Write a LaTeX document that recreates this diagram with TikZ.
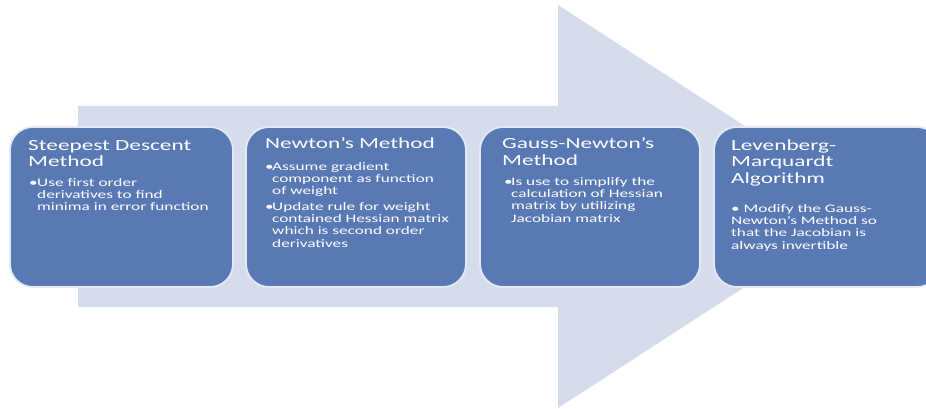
\documentclass[tikz,border=0pt]{standalone}
\usepackage{fontspec}
\newfontfamily\calfont[FakeStretch=1.5]{Carlito}
\definecolor{boxblue}{RGB}{88,121,180}
\definecolor{arrowbg}{RGB}{213,220,235}
\definecolor{rimcol}{RGB}{228,233,243}
\newcommand{\toplines}[1]{\begin{tabular}[t]{@{}l@{}}#1\end{tabular}}
\begin{document}
\begin{tikzpicture}[x=1pt,y=-1pt,
  stage/.style={fill=boxblue,draw=rimcol,line width=1.8pt,rounded corners=23pt},
  ttl/.style={anchor=base west,inner sep=0pt,text=white,
    font={\calfont\fontsize{15.5}{16.7}\selectfont}},
  bodytxt/.style={anchor=base west,inner sep=0pt,text=white,
    font={\calfont\fontsize{11.5}{12.4}\selectfont}},
  bul/.style={anchor=base west,inner sep=0pt,text=white,
    font={\calfont\fontsize{11.5}{12.4}\selectfont}}]
\useasboundingbox (0,0) rectangle (926,409);
\fill[arrowbg] (78,106) -- (558,106) -- (558,5) -- (869,206.5) -- (558,408) -- (558,307) -- (78,307) -- cycle;
% boxes
\draw[stage] (10,127) rectangle (233,287);
\draw[stage] (246,127) rectangle (466,287);
\draw[stage] (480,127) rectangle (700,287);
\draw[stage] (714,127) rectangle (940,287);
% box 1
\node[ttl] (t1) at (28,150) {\toplines{Steepest\,\,Descent\\Method}};
\node[bul] (b1) at (29,186) {\textbullet};
\node[bodytxt] (x1) at (37,186) {\toplines{Use first order\\derivatives to find\\minima in error function}};
% box 2
\node[ttl] (t2) at (265,149) {\toplines{Newton’s Method}};
\node[bul] (b2a) at (265,170) {\textbullet};
\node[bodytxt] (x2a) at (272,170) {\toplines{Assume gradient\\component as function\\of weight}};
\node[bul] (b2b) at (265,210) {\textbullet};
\node[bodytxt] (x2b) at (272,210) {\toplines{Update rule for weight\\contained\,\,Hessian matrix\\which is second order\\derivatives}};
% box 3
\node[ttl] (t3) at (502,149) {\toplines{Gauss-Newton’s\\Method}};
\node[bul] (b3) at (504,185) {\textbullet};
\node[bodytxt] (x3) at (511,185) {\toplines{Is use to simplify the\\calculation of Hessian\\matrix by utilizing\\Jacobian matrix}};
% box 4
\node[ttl] (t4) at (731,150) {\toplines{Levenberg-\\Marquardt\\Algorithm}};
\node[bodytxt] (x4) at (731,212) {\toplines{\textbullet\ Modify the Gauss-\\Newton’s Method so\\that the Jacobian is\\always invertible}};
\end{tikzpicture}
\end{document}
